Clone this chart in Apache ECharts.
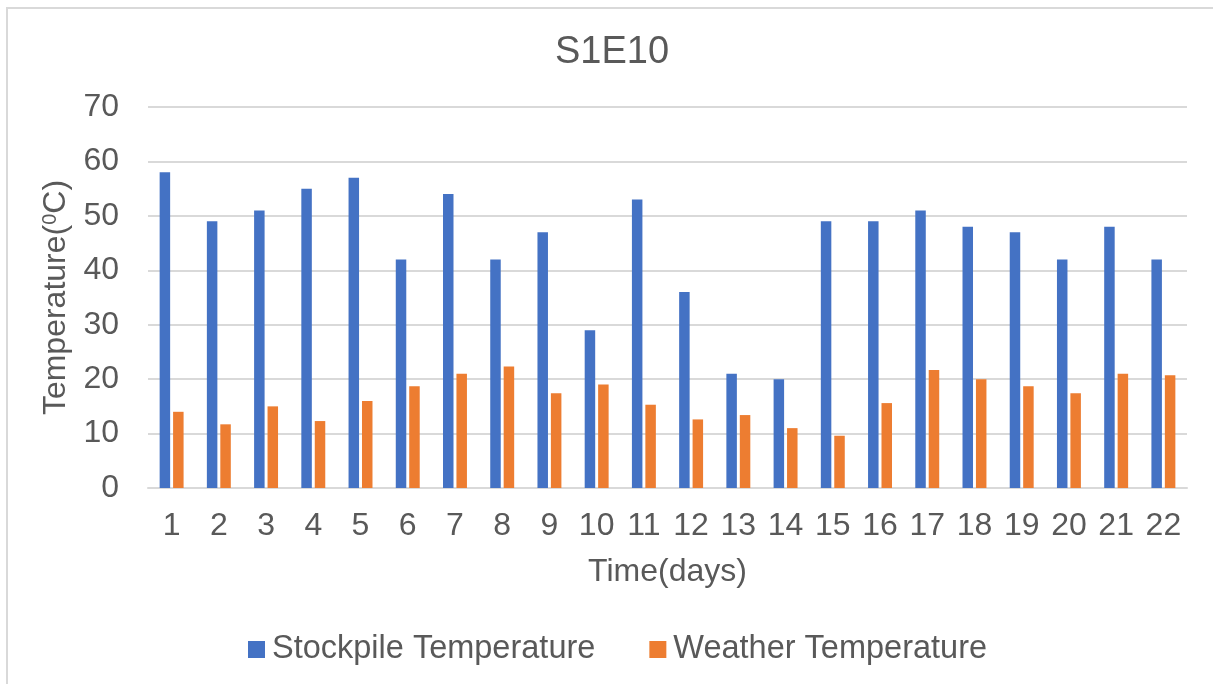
<!DOCTYPE html>
<html lang="en">
<head>
    <meta charset="UTF-8">
    <title>S1E10</title>
    <script src="https://cdn.jsdelivr.net/npm/echarts@6/dist/echarts.min.js"></script>
    <style>
        body { margin: 0; background: #fff; }
        #main { width: 1213px; height: 684px; }
    </style>
</head>
<body>
<div id="main"></div>
<script type="text/javascript">
    var days = ['1', '2', '3', '4', '5', '6', '7', '8', '9', '10', '11',
        '12', '13', '14', '15', '16', '17', '18', '19', '20', '21', '22'];
    var stockpile = [58, 49, 51, 55, 57, 42, 54, 42, 47, 29, 53,
        36, 21, 20, 49, 49, 51, 48, 47, 42, 48, 42];
    var weather = [14.0, 11.7, 15.0, 12.3, 16.0, 18.7, 21.0, 22.3, 17.4, 19.0, 15.3,
        12.6, 13.4, 11.0, 9.6, 15.6, 21.7, 20.0, 18.7, 17.4, 21.0, 20.7];

    var textColor = '#595959';
    var font = 'Liberation Sans, Arial, sans-serif';

    var myChart = echarts.init(document.getElementById('main'));
    var option = {
        animation: false,
        textStyle: { fontFamily: font },
        graphic: [{
            type: 'rect',
            shape: { x: 7, y: 8, width: 1230, height: 700 },
            style: { fill: 'none', stroke: '#d9d9d9', lineWidth: 2 }
        }],
        title: {
            text: 'S1E10',
            left: 550,
            top: 29,
            textStyle: { color: textColor, fontSize: 38, fontWeight: 'normal', fontFamily: font }
        },
        legend: {
            data: ['Stockpile Temperature', 'Weather Temperature'],
            left: 243,
            top: 628,
            itemWidth: 17,
            itemHeight: 17,
            itemGap: 54,
            icon: 'rect',
            textStyle: { color: textColor, fontSize: 32.5, fontFamily: font, padding: [0, 0, 0, 2] }
        },
        grid: {
            left: 148,
            right: 26,
            top: 107,
            bottom: 196,
            containLabel: false
        },
        xAxis: {
            type: 'category',
            data: days,
            name: 'Time(days)',
            nameLocation: 'middle',
            nameGap: 68,
            nameTextStyle: { color: textColor, fontSize: 32, fontFamily: font },
            axisLine: { lineStyle: { color: '#d9d9d9', width: 2 } },
            axisTick: { show: false },
            axisLabel: { color: textColor, fontSize: 32, margin: 22, fontFamily: font }
        },
        yAxis: {
            type: 'value',
            min: 0,
            max: 70,
            interval: 10,
            name: 'Temperature({sup|0}C)',
            nameLocation: 'middle',
            nameGap: 70,
            nameTextStyle: {
                color: textColor, fontSize: 32, fontFamily: font,
                rich: {
                    sup: { fontSize: 20, color: textColor, fontFamily: font, verticalAlign: 'top', padding: [0, 0, 12, 0] }
                }
            },
            axisLine: { show: false },
            axisTick: { show: false },
            splitLine: { lineStyle: { color: '#d9d9d9', width: 2 } },
            axisLabel: { color: textColor, fontSize: 32, margin: 29, fontFamily: font }
        },
        series: [
            {
                name: 'Stockpile Temperature',
                type: 'bar',
                data: stockpile,
                barWidth: 10.5,
                barGap: '28%',
                itemStyle: { color: '#4472c4' }
            },
            {
                name: 'Weather Temperature',
                type: 'bar',
                data: weather,
                barWidth: 10.5,
                barGap: '28%',
                itemStyle: { color: '#ed7d31' }
            }
        ]
    };
    myChart.setOption(option);
</script>
</body>
</html>
